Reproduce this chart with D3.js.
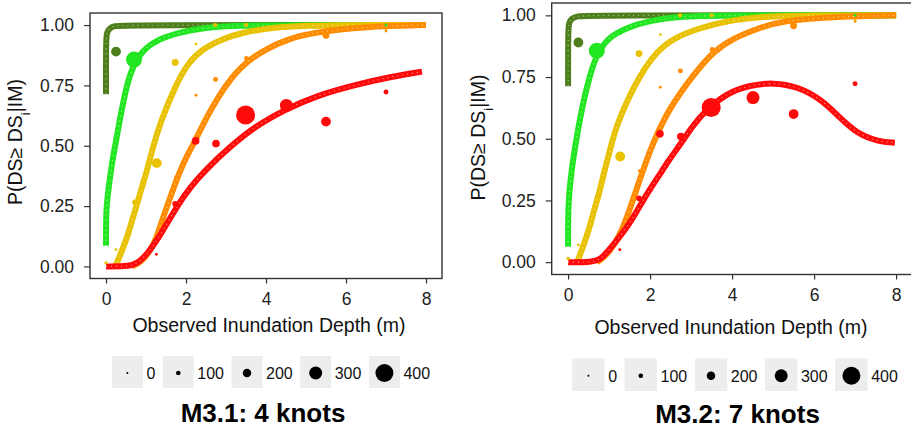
<!DOCTYPE html>
<html>
<meta charset="utf-8">
<style>
body {
  margin: 0;
  background: #fff;
  font-family: 'Liberation Sans', Arial, sans-serif;
}
svg {
  display: block;
}
.tick text {
  font-size: 17.5px;
  fill: #222;
}
.tick line {
  stroke: #333;
  stroke-width: 1.2;
}
.frame {
  fill: none;
  stroke: #333;
  stroke-width: 1.4;
}
.fit {
  fill: none;
  stroke-width: 6;
  stroke-linejoin: round;
}
.speckle {
  fill: none;
  stroke: #fff;
  stroke-width: 1.1;
  stroke-dasharray: 1 4;
  stroke-opacity: 0.6;
}
text.axis-title {
  font-size: 19.5px;
  fill: #111;
}
text.legend-label {
  font-size: 16px;
  fill: #111;
}
text.title {
  font-size: 26px;
  font-weight: bold;
  fill: #000;
}
</style>
<body>
<svg width="911" height="431"></svg>
<script src="https://d3js.org/d3.v7.min.js"></script>
<script>

// damage state colours DS1..DS5
var dsColors = ["#4E7F1C", "#22E622", "#E8C200", "#FF8C00", "#FF0A0A"];
var xTicks = [0, 2, 4, 6, 8];
var yTicks = [0, 0.25, 0.5, 0.75, 1];
var legendCounts = [0, 100, 200, 300, 400];

// observed points: [depth (m), P(DS >= DSi), number of buildings]
var obsDS1 = [[0.25, 0.89, 230]];
var obsDS2 = [[0.7, 0.857, 360], [1.27, 0.93, 110], [7.0, 1.0, 45]];
var obsDS3 = [[0.0, 0.015, 60], [0.25, 0.07, 40], [0.72, 0.266, 120], [1.27, 0.428, 230],
  [1.73, 0.845, 160], [2.25, 0.922, 40], [2.73, 1.0, 90], [3.5, 1.0, 90], [7.0, 0.98, 40]];
var obsDS4 = [[1.74, 0.37, 50], [2.25, 0.709, 45], [2.74, 0.775, 110], [3.51, 0.862, 100],
  [5.5, 0.958, 160], [7.0, 0.975, 35]];
var obsDS5 = [[1.26, 0.05, 45], [1.73, 0.259, 130], [2.24, 0.52, 180], [2.75, 0.509, 180],
  [3.49, 0.627, 420], [4.51, 0.667, 300], [5.5, 0.6, 230], [7.0, 0.723, 110]];

// fitted curves, M3.1 (4 knots)
var m31DS1 = [[0, 0.713], [0, 0.94], [0.02, 0.969], [0.08, 0.985], [0.19, 0.997], [0.5, 1.0], [8, 1.0]];
var m31DS2 = [[0, 0.086], [0, 0.24], [0.07, 0.33], [0.15, 0.43], [0.23, 0.5], [0.38, 0.64], [0.52, 0.75],
  [0.65, 0.82], [0.9, 0.895], [1.31, 0.942], [1.81, 0.969], [2.48, 0.99], [3.3, 0.998], [4.4, 1.0], [8, 1.0]];
var m31DS3 = [[0.22, 0], [0.28, 0.017], [0.36, 0.05], [0.53, 0.12], [0.65, 0.19], [0.78, 0.26], [0.9, 0.33],
  [1.03, 0.4], [1.15, 0.48], [1.36, 0.6], [1.77, 0.761], [2.06, 0.844], [2.4, 0.9], [2.9, 0.942],
  [3.4, 0.969], [4.15, 0.99], [5, 0.998], [6, 1.0], [8, 1.0]];
var m31DS4 = [[0.65, 0], [0.9, 0.02], [1.1, 0.065], [1.24, 0.107], [1.4, 0.19], [1.55, 0.26], [1.7, 0.33],
  [1.86, 0.4], [2.03, 0.46], [2.23, 0.52], [2.5, 0.615], [3.02, 0.761], [3.48, 0.844], [3.98, 0.9],
  [4.56, 0.942], [5.15, 0.969], [6.5, 0.994], [8, 1.0]];
var m31DS5 = [[0, 0], [0.6, 0], [0.8, 0.015], [1.03, 0.05], [1.32, 0.12], [1.57, 0.19], [1.82, 0.26],
  [2.11, 0.33], [2.49, 0.4], [3.06, 0.49], [3.73, 0.581], [4.48, 0.65], [5.23, 0.706], [6.3, 0.755],
  [7.1, 0.785], [7.9, 0.807]];

// fitted curves, M3.2 (7 knots)
var m32DS1 = [[0, 0.713], [0, 0.94], [0.02, 0.97], [0.08, 0.987], [0.22, 0.997], [0.5, 1.0], [8, 1.0]];
var m32DS2 = [[0, 0.062], [0, 0.238], [0.065, 0.346], [0.16, 0.46], [0.3, 0.59], [0.4, 0.67], [0.53, 0.755],
  [0.67, 0.83], [0.95, 0.909], [1.44, 0.95], [1.93, 0.977], [2.74, 0.995], [3.5, 1.0], [8, 1.0]];
var m32DS3 = [[0.22, 0], [0.27, 0.02], [0.39, 0.076], [0.53, 0.143], [0.63, 0.21], [0.76, 0.279],
  [0.85, 0.346], [0.96, 0.414], [1.06, 0.48], [1.18, 0.55], [1.4, 0.64], [1.76, 0.76], [2.17, 0.855],
  [2.58, 0.909], [3.23, 0.95], [3.88, 0.977], [4.69, 0.995], [6, 1.0], [8, 1.0]];
var m32DS4 = [[0.7, 0], [0.8, 0.01], [1.0, 0.04], [1.25, 0.103], [1.5, 0.21], [1.77, 0.346], [2.06, 0.48],
  [2.45, 0.62], [3.06, 0.76], [3.55, 0.855], [4.04, 0.909], [4.69, 0.95], [5.18, 0.977], [6.6, 0.995], [8, 1.0]];
var m32DS5 = [[0, 0], [0.59, 0], [0.8, 0.012], [1.0, 0.049], [1.45, 0.143], [1.69, 0.21], [1.93, 0.279],
  [2.2, 0.346], [2.46, 0.414], [2.75, 0.48], [3.03, 0.55], [3.36, 0.617], [3.88, 0.685], [4.4, 0.716],
  [5.0, 0.728], [5.6, 0.712], [6.19, 0.658], [6.6, 0.59], [7.05, 0.52], [7.58, 0.488], [7.97, 0.484]];

var observed = [obsDS1, obsDS2, obsDS3, obsDS4, obsDS5];

var panels = [
  { title: "M3.1: 4 knots", curves: [m31DS1, m31DS2, m31DS3, m31DS4, m31DS5],
    x0: 90, x1: 442, y0: 13, y1: 278.5,
    yTitleX: 21.5, yTitleY: 142, xTitleX: 269, xTitleY: 331.5,
    legendCx: 271, legendTop: 356, boxW: 31, boxH: 32, legendBase: 378.5,
    titleX: 263, titleY: 422 },
  { title: "M3.2: 7 knots", curves: [m32DS1, m32DS2, m32DS3, m32DS4, m32DS5],
    x0: 551.7, x1: 912.5, y0: 3, y1: 274.5,
    yTitleX: 485, yTitleY: 137.5, xTitleX: 731, xTitleY: 334,
    legendCx: 735, legendTop: 358.5, boxW: 32.5, boxH: 32.5, legendBase: 381.5,
    titleX: 737.5, titleY: 422.5 }
];

var svg = d3.select("svg");

var size = d3.scalePow().exponent(1.3).domain([0, 400]).range([1, 9]);

panels.forEach(function(p) {
  var x = d3.scaleLinear().domain([-0.4, 8.4]).range([p.x0, p.x1]);
  var y = d3.scaleLinear().domain([-0.05, 1.05]).range([p.y1, p.y0]);

  var g = svg.append("g");

  // fitted curves
  var line = d3.line()
    .x(function(d) { return x(d[0]); })
    .y(function(d) { return y(d[1]); })
    .curve(d3.curveBasis);

  p.curves.forEach(function(c, i) {
    g.append("path").attr("class", "fit")
      .attr("stroke", dsColors[i])
      .attr("d", line(c));
    g.append("path").attr("class", "speckle")
      .attr("d", line(c));
  });

  // observations
  observed.forEach(function(pts, i) {
    g.selectAll(null).data(pts).enter().append("circle")
      .attr("cx", function(d) { return x(d[0]); })
      .attr("cy", function(d) { return y(d[1]); })
      .attr("r", function(d) { return size(d[2]); })
      .attr("fill", dsColors[i]);
  });

  // frame
  g.append("rect").attr("class", "frame")
    .attr("x", p.x0).attr("y", p.y0)
    .attr("width", p.x1 - p.x0).attr("height", p.y1 - p.y0);

  // axes
  var ax = g.append("g").attr("transform", "translate(0," + p.y1 + ")")
    .call(d3.axisBottom(x).tickValues(xTicks).tickSize(5).tickPadding(9).tickFormat(d3.format("d")));
  ax.select(".domain").remove();

  var ay = g.append("g").attr("transform", "translate(" + p.x0 + ",0)")
    .call(d3.axisLeft(y).tickValues(yTicks).tickSize(6).tickPadding(10).tickFormat(d3.format(".2f")));
  ay.select(".domain").remove();
  g.selectAll(".tick text").attr("font-family", null);

  // axis titles
  g.append("text").attr("class", "axis-title")
    .attr("text-anchor", "middle")
    .attr("x", p.xTitleX).attr("y", p.xTitleY)
    .text("Observed Inundation Depth (m)");

  var yt = g.append("text").attr("class", "axis-title")
    .attr("text-anchor", "middle")
    .attr("transform", "translate(" + p.yTitleX + "," + p.yTitleY + ") rotate(-90)");
  yt.append("tspan").text("P(DS\u2265 DS");
  yt.append("tspan").attr("baseline-shift", "sub").attr("font-size", "13px").text("i");
  yt.append("tspan").text("|IM)");

  // size legend
  var lg = g.append("g");
  var cx = 0;
  legendCounts.forEach(function(v) {
    var key = lg.append("g").attr("transform", "translate(" + cx + ",0)");
    key.append("rect")
      .attr("x", 0).attr("y", p.legendTop)
      .attr("width", p.boxW).attr("height", p.boxH)
      .attr("fill", "#EDEDED");
    key.append("circle")
      .attr("cx", p.boxW / 2).attr("cy", p.legendTop + p.boxH / 2 + 1)
      .attr("r", size(v)).attr("fill", "#000");
    var t = key.append("text").attr("class", "legend-label")
      .attr("x", p.boxW + 3.5).attr("y", p.legendBase)
      .text(v);
    cx += p.boxW + 3.5 + t.node().getComputedTextLength() + 7.5;
  });
  var totalW = cx - 7.5;
  lg.attr("transform", "translate(" + (p.legendCx - totalW / 2) + ",0)");

  // panel title
  g.append("text").attr("class", "title")
    .attr("text-anchor", "middle")
    .attr("x", p.titleX).attr("y", p.titleY)
    .text(p.title);
});

</script>
</body>
</html>
